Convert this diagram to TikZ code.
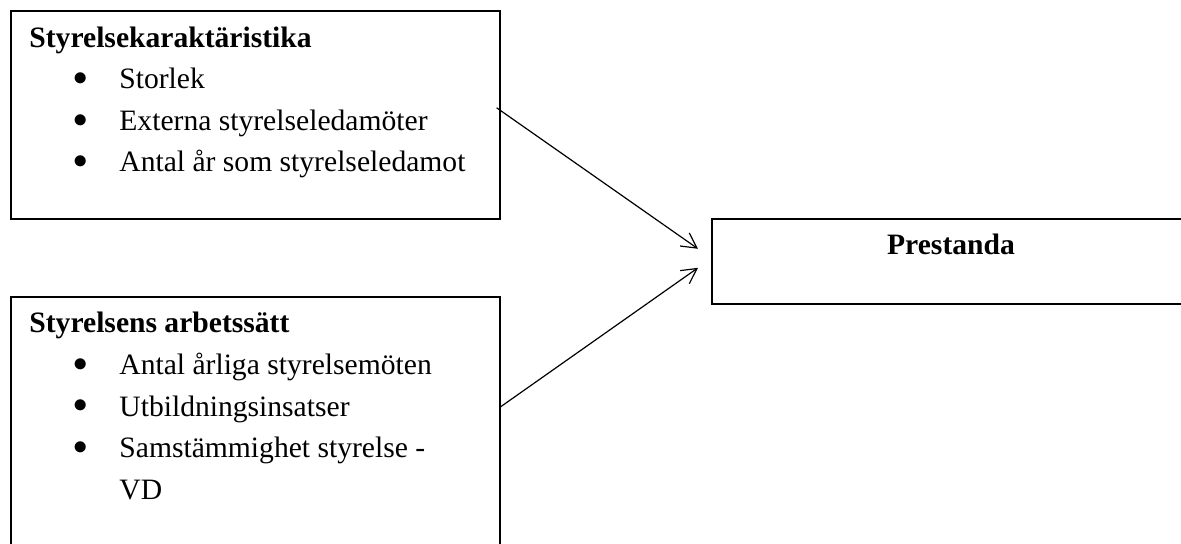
\documentclass[tikz,border=0pt]{standalone}
\usepackage{fontspec}
\setmainfont{Liberation Serif}
\usetikzlibrary{arrows.meta,positioning}

\newcommand{\punkt}{\hspace*{22pt}\makebox[23pt][l]{\raisebox{1.6pt}{$\bullet$}}}

\begin{document}
\begin{tikzpicture}[x=0.5pt, y=-0.5pt,
    every node/.style = {font=\fontsize{14.8}{20.8}\selectfont},
    ram/.style = {shape=rectangle, draw, line width=0.8pt,
      inner sep=0pt, anchor=north west},
    lista/.style = {align=left, inner sep=0pt, anchor=north west},
    pil/.style = {-{Straight Barb[length=7.5pt,width=8pt]}, line width=0.6pt}]
  \useasboundingbox (0,0) rectangle (1181,544);
  \clip (0,0) rectangle (1181,544);
  % rutor
  \node[ram, minimum width=244.5pt, minimum height=104pt] (karakt) at (10,10) {};
  \node[ram, minimum width=244.5pt, minimum height=132pt] (arbete) at (10,296) {};
  \node[ram, minimum width=239pt, minimum height=42.5pt] (presta) at (711,218) {};
  % texter
  \node[lista] (karakttext) at (29,27) {\textbf{Styrelsekaraktäristika}\\[-0.4pt]
    \punkt Storlek\\
    \punkt Externa styrelseledamöter\\
    \punkt Antal år som styrelseledamot};
  \node[lista] (arbetetext) at (29,312) {\textbf{Styrelsens arbetssätt}\\
    \punkt Antal årliga styrelsemöten\\
    \punkt Utbildningsinsatser\\
    \punkt Samstämmighet styrelse -\\
    \hspace*{45pt}VD};
  \node[anchor=base, inner sep=0pt] (prestatext) at (951,255) {\textbf{Prestanda}};
  % pilar
  \draw[pil] ([xshift=-2pt,yshift=3.5pt]karakt.east) -- ([xshift=-6.5pt,yshift=6.25pt]presta.west);
  \draw[pil] ([yshift=11pt]arbete.east) -- ([xshift=-6.5pt,yshift=-3.25pt]presta.west);
\end{tikzpicture}
\end{document}
